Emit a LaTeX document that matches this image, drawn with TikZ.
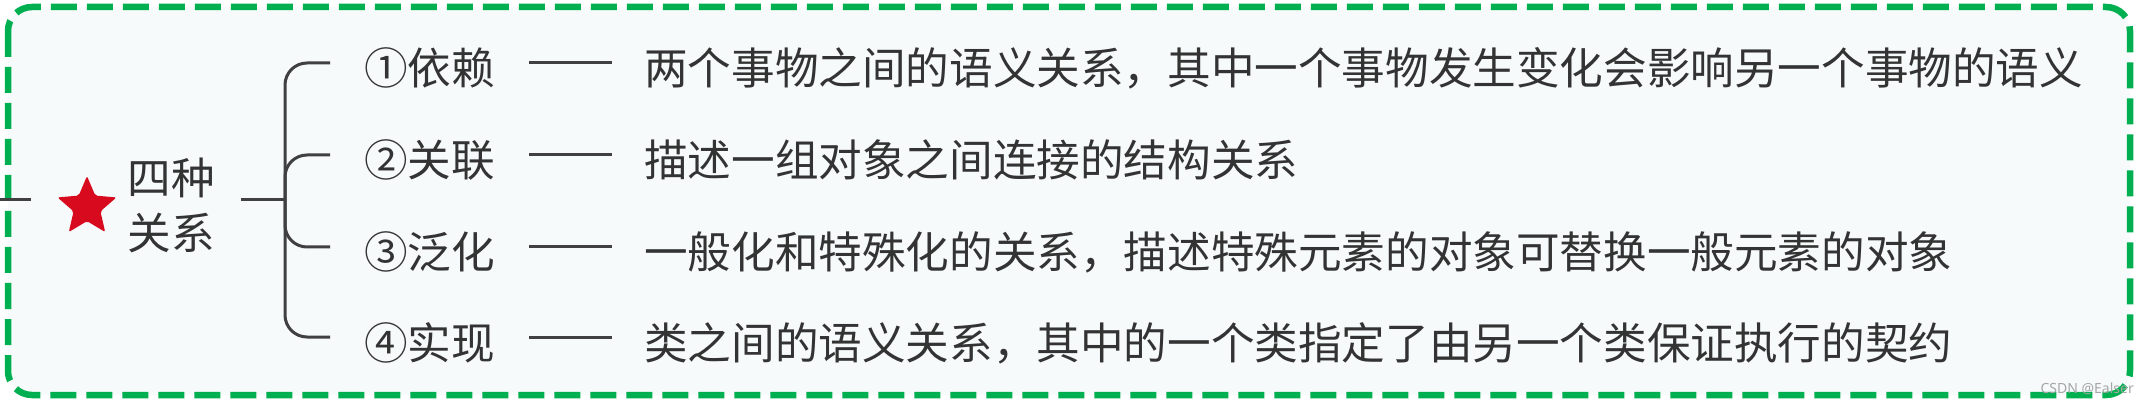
\documentclass[tikz,border=0pt]{standalone}
\usepackage{fontspec}
\setmainfont{Noto Sans CJK SC}
\newfontfamily\wmfont{Noto Sans}
\usepackage{tikz}
\usetikzlibrary{shapes.geometric}
\definecolor{boxgreen}{HTML}{00B050}
\definecolor{boxfill}{HTML}{F6FAFA}
\definecolor{linegray}{HTML}{404040}
\definecolor{textgray}{HTML}{333333}
\definecolor{starred}{HTML}{D80A1E}
\tikzset{
	branch/.style={draw=linegray,line width=3pt,rounded corners=22pt},
	relname/.style={anchor=west,inner xsep=34pt,inner ysep=0pt,text height=50pt,text depth=6pt,font=\fontsize{43.6}{52}\selectfont,text=textgray},
	reldesc/.style={relname,inner xsep=32pt},
	rootname/.style={align=center,inner sep=0pt,font=\fontsize{43.6}{55}\selectfont,text=textgray},
}

\begin{document}
\begin{tikzpicture}[x=1pt,y=-1pt]
						\useasboundingbox (0,0) rectangle (2149,403);
						\draw[boxgreen,line width=6.5pt,dash pattern=on 26pt off 10pt,rounded corners=24pt,fill=boxfill] (8,7) rectangle (2130,395);
						\coordinate (stubL) at (0,200); \coordinate (stubR) at (31,200);
						\coordinate (rootout) at (241,200); \coordinate (fork) at (285,200);
						\node[star,star points=5,star point ratio=2.2,fill=starred,minimum size=62pt,inner sep=0pt,rounded corners=2pt] (redstar) at (87,207) {};
						\node[rootname] (root) at (171,205) {四种\\关系};
						\node[relname] (rel1) at (330,63) {①依赖};
						\node[relname] (rel2) at (330,155) {②关联};
						\node[relname] (rel3) at (330,247) {③泛化};
						\node[relname] (rel4) at (330,337) {④实现};
						\node[reldesc] (desc1) at (612,63) {两个事物之间的语义关系，其中一个事物发生变化会影响另一个事物的语义};
						\node[reldesc] (desc2) at (612,155) {描述一组对象之间连接的结构关系};
						\node[reldesc] (desc3) at (612,247) {一般化和特殊化的关系，描述特殊元素的对象可替换一般元素的对象};
						\node[reldesc] (desc4) at (612,337) {类之间的语义关系，其中的一个类指定了由另一个类保证执行的契约};
						\draw[branch] (stubL) -- (stubR);
						\draw[branch] (rootout) -- (fork);
						\foreach \i in {1,2,3,4} {
							\draw[branch] (fork) |- (rel\i.west);
							\draw[branch] (rel\i.east) -- (desc\i.west);
						}
						\node[anchor=base east,inner sep=0pt,font=\wmfont\fontsize{14}{16}\selectfont,text=gray!70] (watermark) at (2134,393) {CSDN @Ealser};
					\end{tikzpicture}
\end{document}
